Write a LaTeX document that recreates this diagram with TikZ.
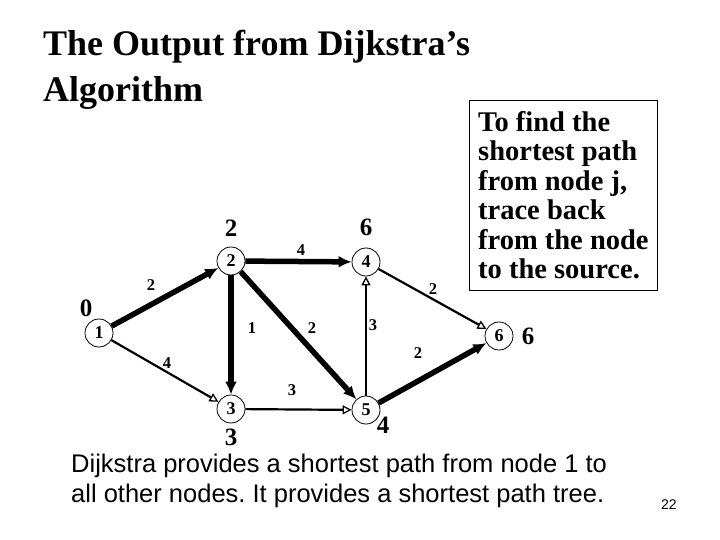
\documentclass[tikz,border=0pt]{standalone}
\usepackage{fontspec}
\setmainfont{Liberation Serif}
\setsansfont{Liberation Sans}
\usetikzlibrary{arrows.meta}
\frenchspacing
\begin{document}
\begin{tikzpicture}[x=1pt,y=-1pt,
  vert/.style={circle,draw,line width=0.8pt,minimum size=28pt,inner sep=0pt,fill=white,
    font=\fontsize{18}{18}\selectfont\bfseries},
  dist/.style={font=\fontsize{25}{25}\selectfont\bfseries,inner sep=0pt},
  wlab/.style={font=\fontsize{16.5}{16.5}\selectfont\bfseries,inner sep=0pt},
  tree/.style={line width=5.5pt,-{Latex[length=13pt,width=12pt]}},
  thin/.style={line width=2.2pt,-{Triangle[open,length=9pt,width=9pt,line width=1.3pt]}},
]
\useasboundingbox[fill=white] (0,0) rectangle (720,540);

% title
\node[anchor=north west,align=left,inner sep=0pt,
  font=\fontsize{36}{46}\selectfont\bfseries] (title) at (43,29.5)
  {The Output from Dijkstra’s\\Algorithm};

% explanation box
\node[draw,line width=0.8pt,anchor=north west,inner xsep=7pt,inner ysep=0pt,
  minimum height=190pt,minimum width=188pt,align=left,
  font=\fontsize{28.5}{29.5}\selectfont\bfseries] (box) at (469,100)
  {To find the\\shortest path\\from node j,\\trace back\\from the node\\to the source.};

% graph nodes
\node[vert] (n1) at (99,333) {1};
\node[vert] (n2) at (231,261) {2};
\node[vert] (n3) at (231,409) {3};
\node[vert] (n4) at (366,262) {4};
\node[vert] (n5) at (366,410) {5};
\node[vert] (n6) at (499,336) {6};

% edges
\draw[tree] (n1) -- (n2);
\draw[thin] (n1) -- (n3);
\draw[tree] (n2) -- (n4);
\draw[tree] (n2) -- (n3);
\draw[tree] (n2) -- (n5);
\draw[thin] (n3) -- (n5);
\draw[thin] (n5) -- (n4);
\draw[thin] (n4) -- (n6);
\draw[tree] (n5) -- (n6);

% edge weights
\node[wlab] (w12) at (151,285) {2};
\node[wlab] (w13) at (167,363) {4};
\node[wlab] (w24) at (301,250) {4};
\node[wlab] (w23) at (252,328) {1};
\node[wlab] (w25) at (312,328) {2};
\node[wlab] (w54) at (373,325) {3};
\node[wlab] (w46) at (433,289) {2};
\node[wlab] (w35) at (292,390) {3};
\node[wlab] (w56) at (418,353) {2};

% distance labels
\node[dist] (d1) at (86,308) {0};
\node[dist] (d2) at (231,228) {2};
\node[dist] (d3) at (231,437) {3};
\node[dist] (d4) at (366,227) {6};
\node[dist] (d5) at (383,425) {4};
\node[dist] (d6) at (528,336) {6};

% bottom text
\node[anchor=north west,align=left,inner sep=0pt,
  font=\sffamily\fontsize{25.5}{30}\selectfont] (note) at (71,453.5)
  {Dijkstra provides a shortest path from node 1 to\\all other nodes. It provides a shortest path tree.};

\node[anchor=base west,inner sep=0pt,font=\sffamily\fontsize{14}{14}\selectfont] (page) at (661,509) {22};
\end{tikzpicture}
\end{document}
